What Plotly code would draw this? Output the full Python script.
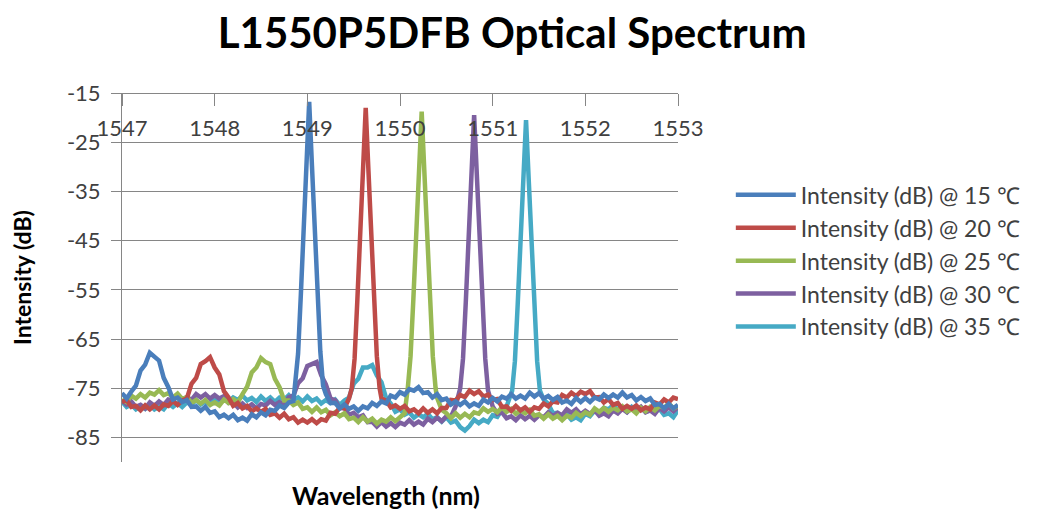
import plotly.graph_objects as go

# Shared wavelength grid of the OSA sweep (nm)
wavelength = [
    1547.00, 1547.05, 1547.10, 1547.15, 1547.20, 1547.25, 1547.30, 1547.35, 1547.40, 1547.45,
    1547.50, 1547.55, 1547.60, 1547.65, 1547.70, 1547.75, 1547.80, 1547.85, 1547.90, 1547.95,
    1548.00, 1548.05, 1548.10, 1548.15, 1548.20, 1548.25, 1548.30, 1548.35, 1548.40, 1548.45,
    1548.50, 1548.55, 1548.60, 1548.65, 1548.70, 1548.75, 1548.80, 1548.85, 1548.90, 1548.95,
    1549.00, 1549.05, 1549.10, 1549.15, 1549.20, 1549.25, 1549.30, 1549.35, 1549.40, 1549.45,
    1549.50, 1549.55, 1549.60, 1549.65, 1549.70, 1549.75, 1549.80, 1549.85, 1549.90, 1549.95,
    1550.00, 1550.05, 1550.10, 1550.15, 1550.20, 1550.25, 1550.30, 1550.35, 1550.40, 1550.45,
    1550.50, 1550.55, 1550.60, 1550.65, 1550.70, 1550.75, 1550.80, 1550.85, 1550.90, 1550.95,
    1551.00, 1551.05, 1551.10, 1551.15, 1551.20, 1551.25, 1551.30, 1551.35, 1551.40, 1551.45,
    1551.50, 1551.55, 1551.60, 1551.65, 1551.70, 1551.75, 1551.80, 1551.85, 1551.90, 1551.95,
    1552.00, 1552.05, 1552.10, 1552.15, 1552.20, 1552.25, 1552.30, 1552.35, 1552.40, 1552.45,
    1552.50, 1552.55, 1552.60, 1552.65, 1552.70, 1552.75, 1552.80, 1552.85, 1552.90, 1552.95,
    1553.00,
]

# Intensity (dB) on the grid; None where the lasing peak list takes over
db_15 = [
    -76.0, -77.1, -75.7, -74.5, -71.4, -70.2, -67.8, -68.6, -69.4, -72.9,
    -74.8, -77.3, -76.9, -77.8, -77.4, -78.8, -78.7, -79.6, -78.8, -80.0,
    -79.7, -80.9, -80.4, -81.1, -80.4, -81.5, -81.0, -81.6, -80.3, -80.9,
    -79.9, -80.5, -79.4, -79.6, -78.5, -79.0, -77.9, -77.6, None, None,
    None, None, None, None, -76.2, -78.0, -78.0, -79.1, -78.3, -79.2,
    -78.7, -79.6, -78.7, -79.1, -78.0, -78.6, -77.7, -78.1, -76.5, -76.9,
    -75.8, -76.3, -75.2, -75.5, -74.8, -76.0, -75.8, -76.9, -76.2, -77.4,
    -77.1, -78.3, -77.7, -78.4, -77.7, -78.7, -78.1, -78.6, -77.3, -77.9,
    -77.0, -77.7, -76.7, -77.1, -76.2, -77.1, -76.5, -77.1, -75.9, -76.7,
    -76.0, -77.1, -76.6, -77.4, -76.8, -77.9, -77.5, -78.2, -77.0, -77.8,
    -77.0, -77.8, -76.9, -77.3, -76.3, -77.0, -76.3, -76.9, -75.9, -76.9,
    -76.4, -77.5, -76.8, -77.6, -77.1, -78.4, -78.2, -79.1, -78.2, -79.1,
    -78.4,
]
db_20 = [
    -77.8, -77.4, -78.8, -78.6, -79.5, -78.5, -79.3, -78.5, -79.3, -78.3,
    -78.6, -77.6, -78.4, -77.5, -77.1, -74.1, -72.9, -70.1, -69.5, -68.7,
    -70.8, -72.2, -75.6, -76.9, -78.6, -78.0, -79.1, -78.6, -79.7, -79.1,
    -79.8, -79.2, -80.4, -80.1, -81.0, -80.2, -81.3, -80.9, -82.0, -81.4,
    -82.0, -81.3, -82.1, -81.3, -81.6, -80.0, -80.2, -78.9, -79.1, -77.1,
    None, None, None, None, None, None, -77.1, -77.5, -78.9, -78.5,
    -79.2, -78.6, -79.7, -79.3, -80.1, -79.1, -80.0, -79.3, -80.1, -79.0,
    -79.0, -77.4, -77.5, -76.4, -76.8, -75.5, -76.2, -75.6, -76.7, -76.3,
    -77.4, -77.2, -78.8, -78.7, -79.6, -78.6, -79.5, -78.9, -79.8, -78.9,
    -79.2, -78.1, -78.7, -77.7, -77.9, -76.4, -76.9, -75.9, -76.6, -75.7,
    -76.2, -75.6, -76.9, -76.8, -77.9, -77.2, -78.4, -78.0, -79.2, -78.6,
    -79.2, -78.5, -79.5, -78.9, -79.3, -77.9, -78.3, -77.3, -77.9, -76.9,
    -77.2,
]
db_25 = [
    -77.3, -77.8, -76.5, -77.1, -76.2, -76.9, -75.9, -76.3, -75.4, -76.4,
    -76.0, -76.9, -76.1, -77.2, -76.8, -78.0, -77.4, -78.1, -77.4, -78.4,
    -77.9, -78.5, -77.3, -78.0, -77.2, -77.9, -76.2, -74.7, -71.8, -70.8,
    -68.9, -69.7, -70.1, -73.1, -74.8, -77.5, -77.5, -78.4, -77.9, -79.2,
    -78.9, -79.8, -78.9, -79.9, -79.4, -80.5, -79.9, -80.7, -80.1, -81.3,
    -81.0, -81.9, -80.9, -81.8, -81.2, -82.2, -81.4, -81.8, -80.9, -81.7,
    -80.9, -80.1, None, None, None, None, None, None, -76.9, -79.4,
    -80.1, -81.1, -80.1, -81.0, -80.2, -80.9, -79.9, -80.2, -79.1, -79.8,
    -79.2, -79.9, -78.9, -79.8, -79.2, -80.2, -79.5, -80.1, -79.4, -80.6,
    -80.3, -81.2, -80.3, -81.2, -80.6, -81.5, -80.6, -81.0, -80.0, -80.7,
    -79.9, -80.4, -79.1, -79.8, -79.0, -79.8, -79.0, -79.5, -78.7, -79.7,
    -79.3, -80.1, -79.0, -79.7, -78.8, -79.5, -78.6, -79.0, -78.1, -79.1,
    -78.6,
]
db_30 = [
    -77.5, -78.3, -77.7, -78.8, -78.4, -79.1, -77.9, -78.6, -77.7, -78.4,
    -77.3, -77.5, -76.5, -77.4, -76.8, -77.4, -76.2, -76.9, -76.2, -77.1,
    -76.4, -77.1, -76.6, -78.0, -77.9, -78.9, -78.1, -79.0, -78.3, -79.1,
    -78.2, -78.5, -77.6, -78.4, -77.8, -78.3, -76.8, -76.5, -74.0, -73.0,
    -70.5, -70.1, -69.7, -72.4, -74.2, -77.1, -77.4, -79.1, -79.0, -80.4,
    -80.0, -80.9, -80.5, -81.9, -81.8, -82.8, -81.9, -82.8, -82.1, -82.9,
    -82.0, -82.4, -81.5, -82.4, -81.8, -82.4, -81.2, -81.9, -81.0, -81.7,
    -80.7, -80.8, -78.7, None, None, None, None, None, None, None,
    -78.7, -80.2, -79.9, -81.1, -80.7, -81.5, -80.5, -81.3, -80.6, -81.4,
    -80.5, -80.9, -79.9, -80.7, -80.0, -80.5, -79.3, -80.0, -79.3, -80.3,
    -79.6, -80.2, -79.5, -80.6, -80.1, -80.7, -79.5, -80.1, -79.2, -79.9,
    -79.0, -79.5, -78.8, -79.9, -79.5, -80.2, -79.0, -79.7, -78.9, -79.7,
    -78.9,
]
db_35 = [
    -77.7, -78.8, -78.3, -79.3, -78.6, -79.2, -78.4, -79.3, -78.7, -79.3,
    -78.1, -78.8, -78.0, -78.8, -77.9, -78.3, -77.4, -78.3, -77.7, -78.3,
    -77.1, -77.8, -77.0, -77.8, -76.9, -77.4, -76.5, -77.5, -77.0, -77.8,
    -76.7, -77.6, -76.9, -77.8, -76.9, -77.3, -76.4, -77.4, -76.9, -77.7,
    -76.7, -77.6, -77.1, -78.1, -77.4, -78.0, -77.3, -78.4, -77.5, -76.9,
    -74.1, -73.1, -70.8, -70.8, -70.3, -72.4, -73.8, -77.0, -78.1, -79.8,
    -79.3, -80.4, -79.9, -81.0, -80.3, -80.9, -80.2, -81.3, -80.9, -81.8,
    -80.9, -82.0, -81.6, -82.9, -83.6, -82.7, -81.4, -82.1, -81.4, -81.9,
    -80.5, -80.8, -79.4, -78.7, None, None, None, None, None, None,
    None, -77.3, -78.2, -80.1, -80.0, -80.9, -80.3, -81.4, -80.9, -81.5,
    -80.2, -80.7, -79.6, -80.1, -79.0, -79.3, -78.4, -79.4, -79.0, -79.8,
    -78.8, -79.7, -79.0, -79.8, -79.1, -79.8, -79.2, -80.4, -80.1, -80.9,
    -79.5,
]

# Lasing peak samples (finer wavelength step)
peak_wl_15 = [1548.87, 1548.90, 1548.93, 1548.96, 1548.99, 1549.02, 1549.05, 1549.08, 1549.11, 1549.14, 1549.17]
peak_db_15 = [-74.5, -68.0, -56.0, -43.0, -30.0, -16.8, -29.8, -42.8, -55.5, -67.5, -74.5]
peak_wl_20 = [1549.48, 1549.51, 1549.54, 1549.57, 1549.60, 1549.63, 1549.66, 1549.69, 1549.72, 1549.75, 1549.78]
peak_db_20 = [-75.0, -69.0, -57.0, -44.5, -31.5, -18.0, -31.0, -44.0, -56.5, -68.5, -75.0]
peak_wl_25 = [1550.084, 1550.114, 1550.144, 1550.174, 1550.204, 1550.234, 1550.264, 1550.294, 1550.324, 1550.354, 1550.384]
peak_db_25 = [-75.0, -68.5, -57.0, -44.5, -31.5, -18.8, -31.5, -44.5, -57.0, -68.5, -75.0]
peak_wl_30 = [1550.65, 1550.68, 1550.71, 1550.74, 1550.77, 1550.80, 1550.83, 1550.86, 1550.89, 1550.92, 1550.95]
peak_db_30 = [-75.0, -69.0, -57.5, -45.0, -32.0, -19.5, -32.0, -45.0, -57.5, -69.0, -75.5]
peak_wl_35 = [1551.21, 1551.24, 1551.27, 1551.30, 1551.33, 1551.36, 1551.39, 1551.42, 1551.45, 1551.48, 1551.51]
peak_db_35 = [-75.5, -69.5, -58.0, -46.0, -33.0, -20.5, -33.0, -46.0, -58.0, -69.5, -75.5]

series_names = [
    "Intensity (dB) @ 15 \u2103",
    "Intensity (dB) @ 20 \u2103",
    "Intensity (dB) @ 25 \u2103",
    "Intensity (dB) @ 30 \u2103",
    "Intensity (dB) @ 35 \u2103",
]
series_colors = ["#4A7EBB", "#BE4B48", "#98B954", "#7D60A0", "#46AAC5"]
x_ticks = [1547, 1548, 1549, 1550, 1551, 1552, 1553]
x_tick_text = ["1547", "1548", "1549", "1550", "1551", "1552", "1553"]
y_ticks = [-15, -25, -35, -45, -55, -65, -75, -85]
y_tick_text = ["-15", "-25", "-35", "-45", "-55", "-65", "-75", "-85"]

grid_db = [db_15, db_20, db_25, db_30, db_35]
peak_wl = [peak_wl_15, peak_wl_20, peak_wl_25, peak_wl_30, peak_wl_35]
peak_db = [peak_db_15, peak_db_20, peak_db_25, peak_db_30, peak_db_35]


def merged(grid_vals, pwl, pdb):
    pts = [(w, v) for w, v in zip(wavelength, grid_vals) if v is not None]
    pts += list(zip(pwl, pdb))
    pts.sort()
    return [p[0] for p in pts], [p[1] for p in pts]


fig = go.Figure()
# draw 35 first so that 15 ends on top; legend reversed keeps 15 first
for i in range(4, -1, -1):
    xs, ys = merged(grid_db[i], peak_wl[i], peak_db[i])
    fig.add_trace(go.Scatter(
        x=xs, y=ys, mode="lines", name=series_names[i],
        line=dict(color=series_colors[i], width=4.5),
    ))

GRID = "#868686"
fig.update_layout(
    width=1041, height=511,
    margin=dict(l=122, r=363, t=93, b=49),
    paper_bgcolor="white", plot_bgcolor="white",
    font=dict(family="Lato", color="#404040"),
    title=dict(
        text="L1550P5DFB Optical Spectrum",
        x=0.492, xref="container", xanchor="center",
        y=1 - 33 / 511, yref="container", yanchor="middle",
        font=dict(family="Lato", size=42, color="#000000", weight="bold"),
    ),
    showlegend=True,
    legend=dict(
        x=1.095, xanchor="left", y=0.545, yanchor="middle",
        traceorder="reversed", itemwidth=60,
        font=dict(family="Lato", size=23, color="#404040"),
        bgcolor="rgba(0,0,0,0)",
    ),
    xaxis=dict(
        range=[1547, 1553], side="bottom", anchor="free", position=1,
        tickvals=x_ticks, ticktext=x_tick_text,
        ticks="outside", ticklen=12, tickcolor=GRID, tickwidth=1,
        ticklabelstandoff=4,
        tickfont=dict(family="Lato", size=22, color="#404040"),
        showline=True, linecolor=GRID, linewidth=1,
        showgrid=False, zeroline=False,
    ),
    yaxis=dict(
        range=[-90, -15], tickvals=y_ticks, ticktext=y_tick_text,
        ticks="outside", ticklen=10, tickcolor=GRID, tickwidth=1,
        ticklabelstandoff=6,
        tickfont=dict(family="Lato", size=22, color="#404040"),
        showline=True, linecolor=GRID, linewidth=1,
        showgrid=True, gridcolor=GRID, gridwidth=1, zeroline=False,
        title=dict(text="Intensity (dB)", standoff=28,
                   font=dict(family="Lato", size=23, color="#000000", weight="bold")),
    ),
    annotations=[dict(
        text="Wavelength (nm)", xref="paper", yref="paper",
        x=0.475, y=-33 / 369, xanchor="center", yanchor="middle",
        showarrow=False,
        font=dict(family="Lato", size=25, color="#000000", weight="bold"),
    )],
)

fig.write_html("out.html")
